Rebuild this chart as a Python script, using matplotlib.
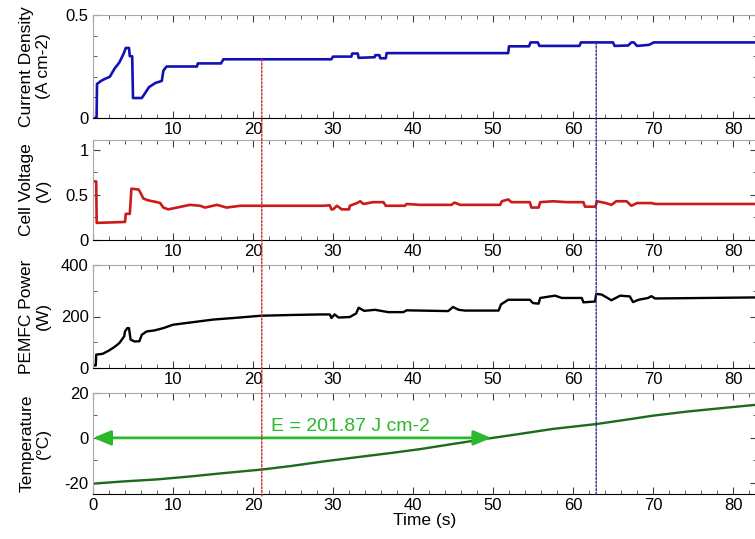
import numpy as np
import matplotlib.pyplot as plt
from matplotlib.patches import ConnectionPatch
from matplotlib.ticker import MultipleLocator

plt.rcParams['font.family'] = ['Liberation Sans', 'DejaVu Sans']
plt.rcParams['axes.unicode_minus'] = False

# ---- data ----
# current density (A cm-2)
cd_t = [0, 0.45, 0.5, 1.0, 1.5, 2.1, 2.7, 3.3, 3.8, 4.1, 4.5, 4.6, 4.9, 5.0, 6.1, 6.5,
        7.0, 7.8, 8.6, 8.8, 9.2, 13.0, 13.1, 16.0, 16.3, 29.8, 30.0, 32.3, 32.4, 33.1,
        33.2, 35.2, 35.3, 35.8, 35.9, 36.6, 36.7, 51.9, 52.0, 54.5, 54.7, 55.6, 55.8,
        60.8, 61.0, 65.0, 65.2, 66.9, 67.3, 67.6, 68.0, 69.5, 70.1, 82.75]
cd_v = [0, 0, 0.165, 0.18, 0.19, 0.20, 0.24, 0.27, 0.31, 0.34, 0.34, 0.30, 0.30, 0.097,
        0.097, 0.12, 0.15, 0.17, 0.18, 0.23, 0.25, 0.25, 0.265, 0.265, 0.285, 0.285,
        0.298, 0.298, 0.313, 0.313, 0.292, 0.295, 0.305, 0.305, 0.29, 0.29, 0.315,
        0.315, 0.348, 0.348, 0.367, 0.367, 0.35, 0.35, 0.367, 0.367, 0.35, 0.352,
        0.367, 0.367, 0.35, 0.355, 0.367, 0.367]

# cell voltage (V)
cv_t = [0, 0.4, 0.46, 4.0, 4.1, 4.6, 4.8, 5.7, 5.9, 6.3, 6.9, 8.0, 8.4, 8.8, 9.4, 10.5,
        12.1, 13.4, 14.0, 15.5, 16.7, 18.4, 28.8, 29.6, 29.8, 30.0, 30.5, 31.1, 32.0,
        32.1, 33.0, 33.4, 33.8, 35.0, 36.3, 36.6, 39.0, 39.2, 40.9, 44.8, 45.2, 45.9,
        50.9, 51.1, 51.9, 52.3, 54.6, 54.8, 55.7, 55.9, 57.5, 59.2, 61.3, 61.5, 62.8,
        63.0, 64.1, 64.8, 65.4, 66.7, 67.3, 68.0, 69.8, 70.3, 82.75]
cv_v = [0.65, 0.65, 0.19, 0.20, 0.29, 0.29, 0.57, 0.56, 0.53, 0.46, 0.44, 0.42, 0.41,
        0.36, 0.34, 0.36, 0.39, 0.38, 0.36, 0.39, 0.36, 0.38, 0.38, 0.385, 0.34, 0.34,
        0.38, 0.34, 0.34, 0.38, 0.41, 0.43, 0.40, 0.42, 0.42, 0.38, 0.38, 0.40, 0.39,
        0.39, 0.415, 0.39, 0.39, 0.43, 0.45, 0.42, 0.42, 0.36, 0.36, 0.42, 0.43, 0.42,
        0.42, 0.37, 0.37, 0.43, 0.41, 0.39, 0.43, 0.43, 0.38, 0.41, 0.41, 0.40, 0.40]

# PEMFC power (W)
pw_t = [0, 0.35, 0.4, 1.2, 2.0, 2.7, 3.3, 3.9, 4.0, 4.3, 4.5, 4.7, 5.2, 5.8, 6.1, 6.7,
        7.7, 8.8, 10.0, 12.5, 15.0, 17.5, 21.0, 25.0, 28.4, 29.6, 29.8, 30.2, 30.7,
        32.1, 32.9, 33.2, 33.9, 35.25, 36.9, 38.8, 39.2, 44.4, 45.0, 45.7, 46.5, 50.7,
        51.0, 51.9, 54.6, 55.0, 55.7, 55.9, 57.75, 58.6, 61.1, 61.3, 62.75, 62.9, 63.6,
        64.8, 65.9, 67.1, 67.5, 68.2, 69.4, 69.8, 70.25, 82.75]
pw_v = [10, 10, 52, 55, 68, 82, 97, 123, 142, 155, 155, 110, 103, 104, 129, 142, 146,
        155, 168, 178, 188, 194, 203, 206, 208, 208, 194, 208, 196, 198, 212, 234, 222,
        226, 217, 217, 224, 221, 237, 226, 223, 223, 247, 265, 265, 252, 250, 272, 281,
        272, 272, 255, 258, 288, 285, 263, 281, 278, 256, 265, 272, 279, 270, 274]

# temperature (degC)
tp_t = [0, 3.8, 8.0, 12.1, 16.3, 21.1, 24.6, 28.8, 33.0, 37.1, 40.9, 45.0, 49.2, 53.4,
        57.5, 63.0, 65.9, 70.0, 74.2, 78.4, 82.75]
tp_v = [-20.4, -19.4, -18.5, -17.2, -15.7, -14.1, -12.6, -10.5, -8.6, -6.8, -5.0, -2.7,
        -0.4, 1.8, 4.0, 6.2, 7.7, 9.9, 11.7, 13.2, 14.7]

event_times = [21.1, 62.9]
event_colors = ['#c83030', '#30308c']
energy_label = 'E = 201.87 J cm-2'
energy_span = [0, 49.8]

xticks = list(range(0, 81, 10))

fig = plt.figure(figsize=(7.55, 5.39), dpi=100)
left, width = 93 / 755, 664 / 755
rects = [(118, 103), (240, 100), (368, 103), (494, 101)]
axes = [fig.add_axes([left, 1 - b / 539, width, h / 539]) for b, h in rects]
ax1, ax2, ax3, ax4 = axes

ax1.plot(cd_t, cd_v, color='#1212b4', lw=1.9)
ax2.plot(cv_t, cv_v, color='#cc1a1a', lw=1.9)
ax3.plot(pw_t, pw_v, color='black', lw=1.7)
ax4.plot(tp_t, tp_v, color='#1c6a1c', lw=1.7)

ax1.set_ylim(0, 0.5)
ax1.set_yticks([0, 0.5])
ax1.set_yticklabels(['0', '0.5'])
ax1.yaxis.set_minor_locator(MultipleLocator(0.1))
ax2.set_ylim(0, 1.11)
ax2.set_yticks([0, 0.5, 1])
ax2.set_yticklabels(['0', '0.5', '1'])
ax2.yaxis.set_minor_locator(MultipleLocator(0.25))
ax3.set_ylim(0, 400)
ax3.set_yticks([0, 200, 400])
ax3.yaxis.set_minor_locator(MultipleLocator(100))
ax4.set_ylim(-25, 20)
ax4.set_yticks([-20, 0, 20])
ax4.yaxis.set_minor_locator(MultipleLocator(10))

labels = ['Current Density\n(A cm-2)', 'Cell Voltage\n(V)', 'PEMFC Power\n(W)',
          'Temperature\n(\u00b0C)']
for i, ax in enumerate(axes):
    ax.set_xlim(0, 83.0)
    ax.set_xticks(xticks)
    if i < 3:
        ax.set_xticklabels([''] + [str(x) for x in xticks[1:]])
    ax.xaxis.set_minor_locator(MultipleLocator(2))
    ax.tick_params(which='both', direction='in', top=True, right=True,
                   labelsize=12, pad=3, color='#404040')
    ax.tick_params(which='major', length=5)
    ax.tick_params(which='minor', length=3)
    for s in ['top', 'left', 'right']:
        ax.spines[s].set_color('#a8a8a8')
    ax.spines['bottom'].set_color('black')
    ax.set_ylabel(labels[i], fontsize=12.5, linespacing=1.1)
    ax.yaxis.set_label_coords(-0.064, 0.5)

ax4.set_xlabel('Time (s)', fontsize=12.5, labelpad=0)

# energy arrow
green = '#2cb82c'
ax4.annotate('', xy=(energy_span[0], 0), xytext=(energy_span[1], 0),
             arrowprops=dict(arrowstyle='<|-|>,head_length=0.6,head_width=0.25',
                             color=green, lw=2, mutation_scale=18,
                             shrinkA=0, shrinkB=0))
ax4.text(22.3, 3.0, energy_label, color=green, fontsize=14, va='baseline')

# event markers running through all panels
for t, c in zip(event_times, event_colors):
    top = np.interp(t, cd_t, cd_v)
    con = ConnectionPatch(xyA=(t, top), coordsA=ax1.transData,
                          xyB=(t, -0.02), coordsB=ax4.get_xaxis_transform(),
                          color=c, lw=1.0, linestyle=(0, (1.5, 1.2)))
    fig.add_artist(con)

fig.savefig('out.png', dpi=100)
